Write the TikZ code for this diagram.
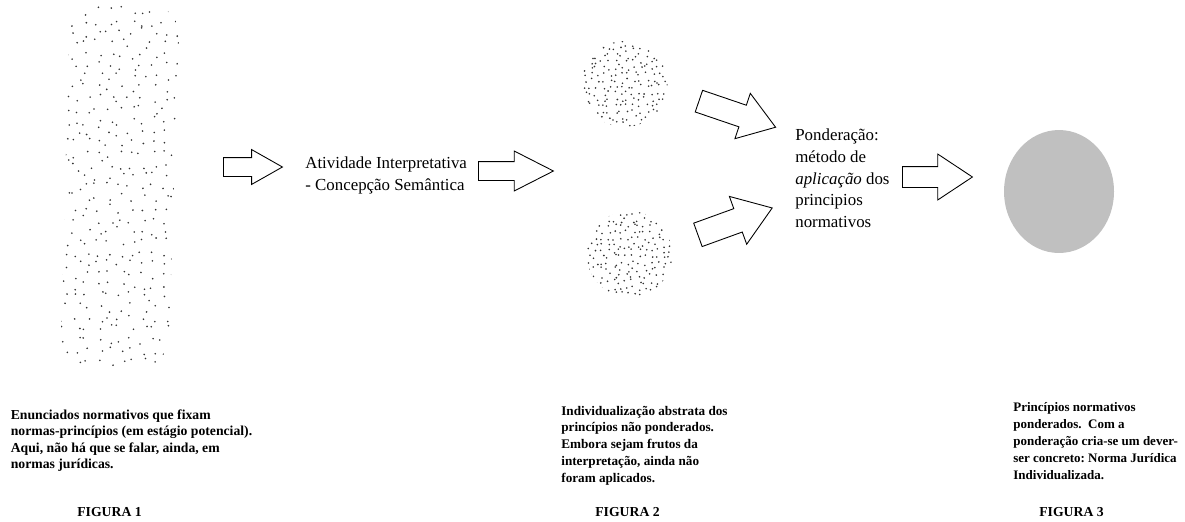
\documentclass[tikz,border=0pt]{standalone}
\usepackage{fontspec}
\setmainfont{Liberation Serif}
\usepackage{tikz}
\usetikzlibrary{shapes.arrows,shapes.geometric}
\definecolor{fgsilver}{RGB}{192,192,192}
\tikzset{
  bigarrow/.style={single arrow, draw, fill=white, line width=0.5pt, inner xsep=0pt, text height=0pt, text depth=0pt},
  midtext/.style={align=left, inner sep=0pt, anchor=north west, font=\fontsize{9.6}{12.4}\selectfont},
  captext/.style={align=left, inner sep=0pt, anchor=north west, font=\fontsize{7.8}{9.4}\selectfont\bfseries},
  figlabel/.style={inner sep=0pt, anchor=base west, font=\fontsize{7.8}{9.4}\selectfont\bfseries},
  speck/.style={fill=black!80}
}
\frenchspacing

\begin{document}
\begin{tikzpicture}[x=0.02cm,y=-0.02cm]
  \useasboundingbox (0,0) rectangle (1185,521);
  \pgfmathsetseed{4321}
  % figura 1: stippled column
  \begin{scope}
    \clip[rounded corners=0.6cm] (70,5) -- (180,5) -- (168,368) -- (60,368) -- cycle;
    \foreach \i in {0,...,10} {
      \foreach \j in {0,...,33} {
        \pgfmathsetmacro\dx{60+11*(\i+0.5+0.85*(rnd-0.5))}
        \pgfmathsetmacro\dy{5+11*(\j+0.5+0.85*(rnd-0.5))}
        \fill[speck] (\dx,\dy) circle (0.9);
      }
    }
  \end{scope}
  \coordinate (fig1) at (120,186);

  % figura 2: two stippled discs
  \coordinate (fig2a) at (624.5,84);
  \coordinate (fig2b) at (629.5,254);
  \foreach \c in {fig2a,fig2b} {
    \begin{scope}
      \clip (\c) circle (43);
      \foreach \i in {-7,...,6} {
        \foreach \j in {-7,...,6} {
          \pgfmathsetmacro\dx{6.2*(\i+0.5+0.85*(rnd-0.5))}
          \pgfmathsetmacro\dy{6.2*(\j+0.5+0.85*(rnd-0.5))}
          \fill[speck] (\c) ++(\dx,\dy) circle (0.9);
        }
      }
    \end{scope}
  }

  % figura 3
  \node (fig3) [ellipse, fill=fgsilver, inner sep=0pt, minimum width=2.2cm, minimum height=2.46cm] at (1059,191.5) {};

  % block arrows
  \node (arr1) [bigarrow, anchor=tail, inner ysep=0.18cm, minimum height=1.18cm, single arrow head extend=0.16cm, single arrow tip angle=59] at (223,167) {};
  \node (arr2) [bigarrow, anchor=tail, inner ysep=0.18cm, minimum height=1.5cm, single arrow head extend=0.21cm, single arrow tip angle=54] at (478,171) {};
  \node (arr3) [bigarrow, anchor=tail, rotate=-18.8, inner ysep=0.22cm, minimum height=1.62cm, single arrow head extend=0.25cm, single arrow tip angle=69] at (698.5,101) {};
  \node (arr4) [bigarrow, anchor=tail, rotate=19.9, inner ysep=0.24cm, minimum height=1.58cm, single arrow head extend=0.26cm, single arrow tip angle=70] at (697.5,235) {};
  \node (arr5) [bigarrow, anchor=tail, inner ysep=0.2cm, minimum height=1.4cm, single arrow head extend=0.25cm, single arrow tip angle=67] at (902,177) {};

  % texts
  \node (interp) [midtext] at (305,156.5) {Atividade Interpretativa\\- Concepção Semântica};
  \node (ponder) [midtext] at (795,128.5) {Ponderação:\\método de\\\textit{aplicação} dos\\principios\\normativos};

  \node (cap1) [captext] at (10.5,409) {Enunciados normativos que fixam\\normas-princípios (em estágio potencial).\\Aqui, não há que se falar, ainda, em\\normas jurídicas.};
  \node (cap2) [captext, font=\fontsize{7.5}{9.6}\selectfont\bfseries] at (561,405.5) {Individualização abstrata dos\\princípios não ponderados.\\Embora sejam frutos da\\interpretação, ainda não\\foram aplicados.};
  \node (cap3) [captext, font=\fontsize{7.4}{9.6}\selectfont\bfseries] at (1013,402.5) {Princípios normativos\\ponderados.\ \ Com a\\ponderação cria-se um dever-\\ser concreto: Norma Jurídica\\Individualizada.};

  \foreach \x/\lab/\nm in {77/FIGURA 1/lab1, 595/FIGURA 2/lab2, 1039/FIGURA 3/lab3} {
    \node (\nm) [figlabel] at (\x,516) {\lab};
  }
\end{tikzpicture}
\end{document}
